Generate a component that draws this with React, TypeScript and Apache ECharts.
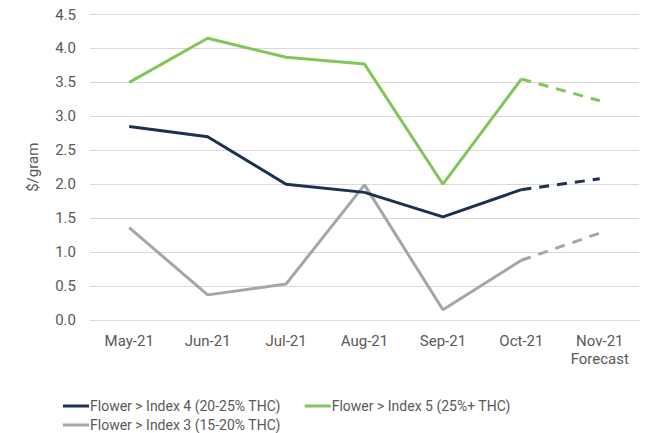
import React, { useEffect, useRef } from "react";
import * as echarts from "echarts";

const categories = ["May-21", "Jun-21", "Jul-21", "Aug-21", "Sep-21", "Oct-21", "Nov-21\nForecast"];
const index4 = [2.85, 2.7, 2.0, 1.88, 1.52, 1.92, 2.08];
const index5 = [3.5, 4.15, 3.87, 3.77, 2.0, 3.55, 3.23];
const index3 = [1.36, 0.37, 0.53, 1.99, 0.15, 0.88, 1.28];
const forecastFrom = 5; // index of last actual month

const names = [
  "Flower > Index 4 (20-25% THC)",
  "Flower > Index 5 (25%+ THC)",
  "Flower > Index 3 (15-20% THC)",
];
const colors = ["#1c3150", "#80c65a", "#a6a6a6"];

function actual(arr: number[]) {
  return arr.map((v, i) => (i <= forecastFrom ? v : "-"));
}
function forecast(arr: number[]) {
  return arr.map((v, i) => (i >= forecastFrom ? v : "-"));
}

export default function App() {
  const ref = useRef<HTMLDivElement>(null);
  useEffect(() => {
    const chart = echarts.init(ref.current!, undefined, { renderer: "svg" });
    const all = [index4, index5, index3];
    const series: any[] = [];
    all.forEach((arr, k) => {
      series.push({
        name: names[k],
        type: "line",
        data: actual(arr),
        symbol: "none",
        lineStyle: { color: colors[k], width: 3 },
        itemStyle: { color: colors[k] },
        z: 3 - k,
      });
    });
    all.forEach((arr, k) => {
      series.push({
        name: names[k] + " forecast",
        type: "line",
        data: forecast(arr),
        symbol: "none",
        lineStyle: { color: colors[k], width: 3, type: [10, 8] },
        itemStyle: { color: colors[k] },
        z: 3 - k,
      });
    });
    const textStyle = { color: "#595959", fontSize: 15, fontFamily: "Roboto" };
    const legendText = { color: "#595959", fontSize: 14, fontFamily: "Roboto", padding: [0, 0, 0, -4] };
    chart.setOption({
      animation: false,
      grid: { left: 90, right: 7, top: 14.5, bottom: 113 },
      legend: [
        {
          data: [names[0], names[1]],
          left: 58,
          top: 394,
          icon: "rect",
          itemWidth: 26,
          itemHeight: 3,
          itemGap: 24,
          textStyle: legendText,
        },
        {
          data: [names[2]],
          left: 58,
          top: 413,
          icon: "rect",
          itemWidth: 26,
          itemHeight: 3,
          textStyle: legendText,
        },
      ],
      xAxis: {
        type: "category",
        data: categories,
        boundaryGap: true,
        axisLine: { show: true, lineStyle: { color: "#d9d9d9" } },
        axisTick: { show: false },
        axisLabel: { ...textStyle, margin: 12, lineHeight: 18 },
      },
      yAxis: {
        type: "value",
        min: 0,
        max: 4.5,
        interval: 0.5,
        name: "$/gram",
        nameLocation: "middle",
        nameGap: 50,
        nameRotate: 90,
        nameTextStyle: textStyle,
        axisLine: { show: false },
        axisTick: { show: false },
        axisLabel: { ...textStyle, margin: 14, formatter: (v: number) => v.toFixed(1) },
        splitLine: { lineStyle: { color: "#d9d9d9", width: 1 } },
      },
      series,
    });
    return () => chart.dispose();
  }, []);
  return <div ref={ref} style={{ width: 646, height: 433, position: "absolute", left: 0, top: 0 }} />;
}
